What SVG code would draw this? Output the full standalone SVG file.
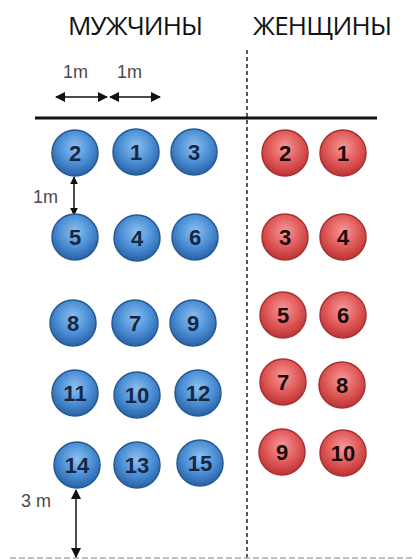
<svg xmlns="http://www.w3.org/2000/svg" width="414" height="560" viewBox="0 0 414 560">
<defs>
<radialGradient id="gb" cx="50%" cy="38%" r="60%">
<stop offset="0" stop-color="#8dc0ee"/>
<stop offset="0.55" stop-color="#4f92d8"/>
<stop offset="1" stop-color="#2a64a8"/>
</radialGradient>
<radialGradient id="gr" cx="50%" cy="38%" r="60%">
<stop offset="0" stop-color="#f59a9a"/>
<stop offset="0.55" stop-color="#e35d5d"/>
<stop offset="1" stop-color="#bf3535"/>
</radialGradient>
<marker id="ah" viewBox="0 0 10 10" refX="9" refY="5" markerWidth="10" markerHeight="10" markerUnits="userSpaceOnUse" orient="auto-start-reverse">
<path d="M0,0 L10,5 L0,10 z" fill="#111"/>
</marker>
<marker id="ahs" viewBox="0 0 10 10" refX="9" refY="5" markerWidth="8" markerHeight="8" markerUnits="userSpaceOnUse" orient="auto-start-reverse">
<path d="M0,0 L10,5 L0,10 z" fill="#111"/>
</marker>
</defs>
<style>
.title{font-family:"Open Sans","Noto Sans",sans-serif;font-size:26px;fill:#111}
.lbl{font-family:"Liberation Sans",Arial,sans-serif;font-size:18px;fill:#4a4a4a}
.b circle{fill:url(#gb);stroke:#245a94;stroke-width:1.5}
.r circle{fill:url(#gr);stroke:#a83030;stroke-width:1.5}
.b text{font-family:"Liberation Sans",Arial,sans-serif;font-weight:bold;font-size:22px;fill:#142845;text-anchor:middle}
.r text{font-family:"Liberation Sans",Arial,sans-serif;font-weight:bold;font-size:22px;fill:#1a0a0a;text-anchor:middle}
.arr{stroke:#111;stroke-width:1.5;fill:none}
</style>
<rect width="414" height="560" fill="#fff"/>
<text class="title" x="68" y="35" textLength="135">МУЖЧИНЫ</text>
<text class="title" x="253" y="35" textLength="139">ЖЕНЩИНЫ</text>
<g id="lines">
<line x1="247" y1="50" x2="247" y2="560" stroke="#222" stroke-width="1.5" stroke-dasharray="4,3"/>
<line x1="10" y1="558" x2="414" y2="558" stroke="#aaa" stroke-width="1.5" stroke-dasharray="6,3"/>
<line x1="35" y1="118" x2="377" y2="118" stroke="#111" stroke-width="3"/>
</g>
<g id="connectors">
<line class="arr" x1="56" y1="97" x2="107" y2="97" marker-start="url(#ah)" marker-end="url(#ah)"/>
<line class="arr" x1="110" y1="97" x2="160" y2="97" marker-start="url(#ah)" marker-end="url(#ah)"/>
<line class="arr" x1="74" y1="177" x2="74" y2="215" marker-start="url(#ahs)" marker-end="url(#ahs)"/>
<line class="arr" x1="76" y1="490" x2="76" y2="557" marker-start="url(#ah)" marker-end="url(#ah)"/>
</g>
<text class="lbl" x="63" y="78">1m</text>
<text class="lbl" x="117" y="78">1m</text>
<text class="lbl" x="33" y="203">1m</text>
<text class="lbl" x="21" y="507">3 m</text>
<g id="m2" class="b"><circle cx="75" cy="153" r="23"/><text x="75" y="161">2</text></g>
<g id="m1" class="b"><circle cx="136" cy="152" r="23"/><text x="136" y="160">1</text></g>
<g id="m3" class="b"><circle cx="194" cy="152" r="23"/><text x="194" y="160">3</text></g>
<g id="m5" class="b"><circle cx="75" cy="237" r="23"/><text x="75" y="245">5</text></g>
<g id="m4" class="b"><circle cx="137" cy="238" r="23"/><text x="137" y="246">4</text></g>
<g id="m6" class="b"><circle cx="195" cy="237" r="23"/><text x="195" y="245">6</text></g>
<g id="m8" class="b"><circle cx="73" cy="323" r="23"/><text x="73" y="331">8</text></g>
<g id="m7" class="b"><circle cx="135" cy="323" r="23"/><text x="135" y="331">7</text></g>
<g id="m9" class="b"><circle cx="193" cy="323" r="23"/><text x="193" y="331">9</text></g>
<g id="m11" class="b"><circle cx="75" cy="393" r="23"/><text x="75" y="401">11</text></g>
<g id="m10" class="b"><circle cx="137" cy="395" r="23"/><text x="137" y="403">10</text></g>
<g id="m12" class="b"><circle cx="198" cy="393" r="23"/><text x="198" y="401">12</text></g>
<g id="m14" class="b"><circle cx="77" cy="465" r="23"/><text x="77" y="473">14</text></g>
<g id="m13" class="b"><circle cx="137" cy="465" r="23"/><text x="137" y="473">13</text></g>
<g id="m15" class="b"><circle cx="200" cy="463" r="23"/><text x="200" y="471">15</text></g>
<g id="w2" class="r"><circle cx="285" cy="153" r="23"/><text x="285" y="161">2</text></g>
<g id="w1" class="r"><circle cx="343" cy="153" r="23"/><text x="343" y="161">1</text></g>
<g id="w3" class="r"><circle cx="285" cy="237" r="23"/><text x="285" y="245">3</text></g>
<g id="w4" class="r"><circle cx="343" cy="237" r="23"/><text x="343" y="245">4</text></g>
<g id="w5" class="r"><circle cx="283" cy="315" r="23"/><text x="283" y="323">5</text></g>
<g id="w6" class="r"><circle cx="343" cy="315" r="23"/><text x="343" y="323">6</text></g>
<g id="w7" class="r"><circle cx="283" cy="382" r="23"/><text x="283" y="390">7</text></g>
<g id="w8" class="r"><circle cx="342" cy="385" r="23"/><text x="342" y="393">8</text></g>
<g id="w9" class="r"><circle cx="282" cy="452" r="23"/><text x="282" y="460">9</text></g>
<g id="w10" class="r"><circle cx="343" cy="453" r="23"/><text x="343" y="461">10</text></g>
</svg>
